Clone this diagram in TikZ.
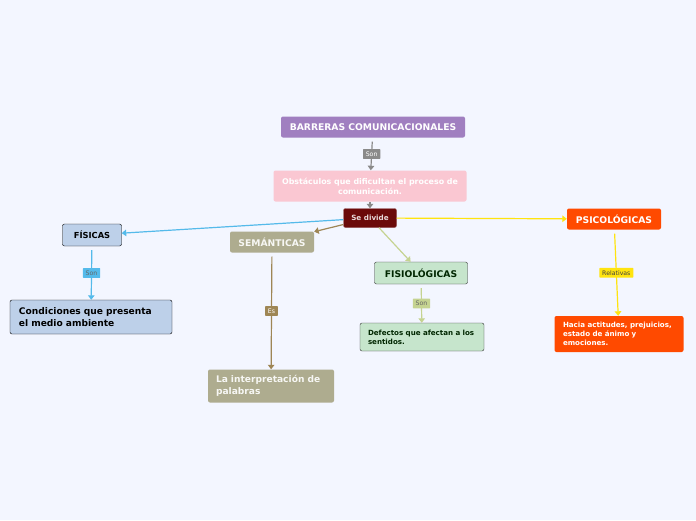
\documentclass[tikz,border=0pt]{standalone}
\usepackage{fontspec}
\setmainfont{DejaVu Sans}
\usetikzlibrary{arrows.meta}

\definecolor{fondo}{RGB}{243,246,255}
\definecolor{morado}{RGB}{160,127,192}
\definecolor{rosa}{RGB}{250,199,210}
\definecolor{vino}{RGB}{107,10,10}
\definecolor{azulc}{RGB}{189,208,233}
\definecolor{azul}{RGB}{84,186,234}
\definecolor{oliva}{RGB}{174,172,143}
\definecolor{cafe}{RGB}{158,134,85}
\definecolor{verdec}{RGB}{198,229,204}
\definecolor{verde}{RGB}{197,211,145}
\definecolor{naranja}{RGB}{255,74,0}
\definecolor{amarillo}{RGB}{255,228,15}
\definecolor{gris}{RGB}{138,138,138}

\tikzset{
  caja/.style={rounded corners=2pt, inner sep=2pt, font=\bfseries\fontsize{9.2}{11}\selectfont},
  etiq/.style={fill=#1, inner xsep=2.8pt, inner ysep=2.5pt, rounded corners=0.5pt, font=\fontsize{6.2}{7}\selectfont},
  flecha/.style={draw=#1, line width=1.2pt, -{Triangle[width=6.5pt,length=4.5pt]}},
}

\begin{document}
\begin{tikzpicture}[x=1pt,y=-1pt]
\fill[fondo] (0,0) rectangle (696,520);
\useasboundingbox (0,0) rectangle (696,520);
% centre
\node[caja, fill=morado, text=white, minimum width=184pt, minimum height=21pt] (barreras) at (373,127) {BARRERAS COMUNICACIONALES};
\node[caja, fill=rosa, text=white, minimum width=193pt, minimum height=31pt, align=center, font=\bfseries\fontsize{7.9}{10}\selectfont] (obst) at (370,186) {Obstáculos que dificultan el proceso de\\comunicación.};
\node[caja, fill=vino, draw=vino!70!white, text=white!85!vino, minimum width=53pt, minimum height=19pt, font=\bfseries\fontsize{7.2}{8}\selectfont] (divide) at (370,218) {Se divide};
% ramas
\node[caja, fill=azulc, draw=black, text=black, minimum width=59pt, minimum height=22pt, font=\bfseries\fontsize{8.3}{10}\selectfont] (fisicas) at (92,235) {FÍSICAS};
\node[caja, fill=azulc, draw=black, text=black, minimum width=162pt, minimum height=34pt, text width=144pt, align=left, font=\bfseries\fontsize{9.1}{11.5}\selectfont] (condic) at (91,317) {Condiciones que presenta\\el medio ambiente};
\node[caja, fill=oliva, text=white!90!oliva, minimum width=84pt, minimum height=21pt] (seman) at (272,242) {SEMÁNTICAS};
\node[caja, fill=oliva, text=white!90!oliva, minimum width=126pt, minimum height=33pt, text width=110pt, align=left, font=\bfseries\fontsize{9.1}{11.5}\selectfont] (interp) at (271,386) {La interpretación de\\palabras};
\node[caja, fill=verdec, draw=black!80, text=black!85!green, minimum width=93pt, minimum height=22pt] (fisio) at (421,273) {FISIOLÓGICAS};
\node[caja, fill=verdec, draw=black!80, text=black!85!green, minimum width=124pt, minimum height=28pt, text width=108pt, align=left, font=\bfseries\fontsize{7.1}{9}\selectfont] (defect) at (422,337) {Defectos que afectan a los\\sentidos.};
\node[caja, fill=naranja, text=white, minimum width=94pt, minimum height=21pt] (psico) at (614,219) {PSICOLÓGICAS};
\node[caja, fill=naranja, text=white, minimum width=129pt, minimum height=36pt, text width=112pt, align=left, font=\bfseries\fontsize{7.1}{9}\selectfont] (hacia) at (619,334) {Hacia actitudes, prejuicios,\\estado de ánimo y\\emociones.};
% conectores
\draw[flecha=gris, shorten <=4pt] (barreras) -- node[etiq=gris, text=white] (son1) {Son} (obst);
\draw[flecha=gris] (obst) -- (divide);
\draw[flecha=azul] (divide) -- (fisicas);
\draw[flecha=cafe] (divide) -- (seman);
\draw[flecha=verde] (divide) -- (fisio);
\draw[flecha=amarillo] (divide) -- (psico);
\draw[flecha=azul, shorten <=4pt] (fisicas) -- node[etiq=azul, text=black!60] (son2) {Son} (condic);
\draw[flecha=cafe, shorten <=4pt] (seman) -- node[etiq=cafe, text=white] (es) {Es} (interp);
\draw[flecha=verde, shorten <=4pt] (fisio) -- node[etiq=verde, text=black!60] (son3) {Son} (defect);
\draw[flecha=amarillo, shorten <=4pt] (psico) -- node[etiq=amarillo, text=black!75] (relat) {Relativas} (hacia);
\end{tikzpicture}
\end{document}
